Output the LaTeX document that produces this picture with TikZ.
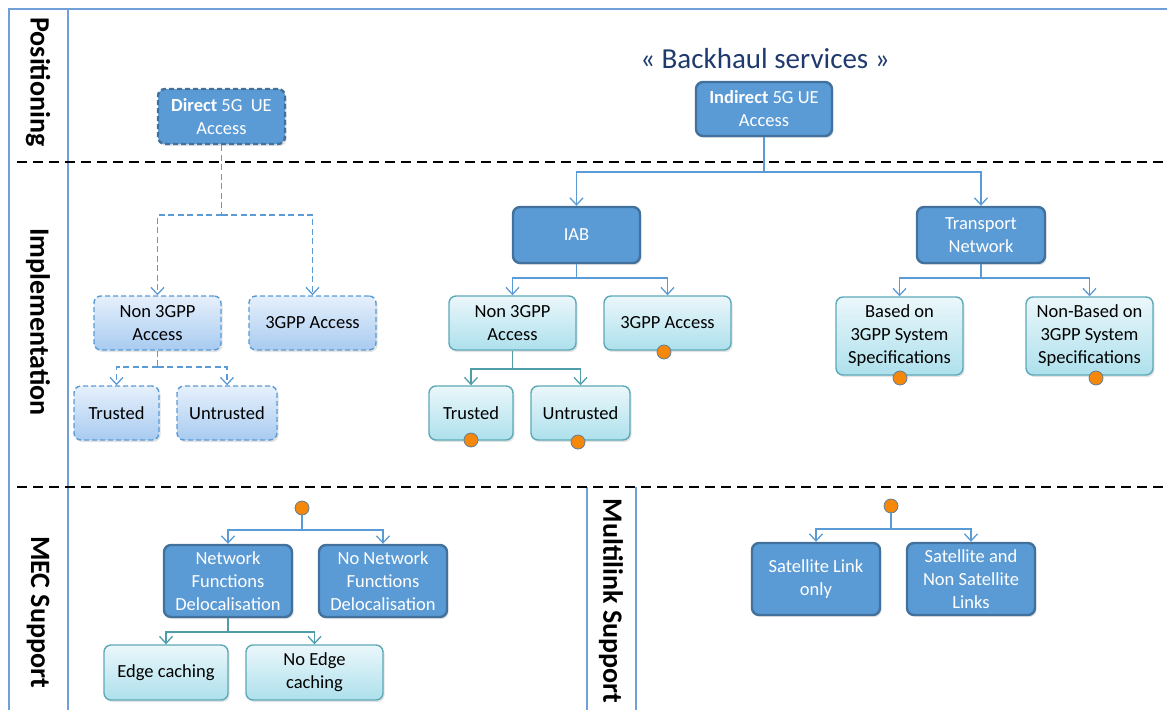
\documentclass[tikz,border=0pt]{standalone}
\usepackage{fontspec}
\setmainfont{Carlito}
\usetikzlibrary{arrows.meta,shadows}
\definecolor{boxblue}{HTML}{5B9BD5}
\definecolor{boxedge}{HTML}{41719C}
\definecolor{framec}{HTML}{6FA0D8}
\definecolor{lbtop}{HTML}{E6F0FC}
\definecolor{lbbot}{HTML}{A8CBF0}
\definecolor{cytop}{HTML}{EBF7FB}
\definecolor{cybot}{HTML}{ADE0EC}
\definecolor{cyedge}{HTML}{5DA9B8}
\definecolor{tealconn}{HTML}{4E9DA8}
\definecolor{navytxt}{HTML}{1F3A6E}
\definecolor{dotor}{HTML}{F5870A}
\definecolor{dotedge}{HTML}{5E7F9E}
\tikzset{
  boxfont/.style={font=\fontsize{18.5}{23}\selectfont},
  shad/.style={drop shadow={opacity=0.22, shadow xshift=1.5pt, shadow yshift=-2pt}},
  darkbox/.style={shad, draw=boxedge, line width=2.4pt, fill=boxblue, rounded corners=7pt, text=white, align=center, boxfont, inner sep=0pt},
  lightbox/.style={shad, draw=boxblue, dash pattern=on 5pt off 3pt, line width=1.4pt, top color=lbtop, bottom color=lbbot, rounded corners=7pt, text=black, align=center, boxfont, inner sep=0pt},
  cybox/.style={shad, draw=cyedge, line width=1.4pt, top color=cytop, bottom color=cybot, rounded corners=7pt, text=black, align=center, boxfont, inner sep=0pt},
  conn/.style={draw=boxblue, line width=1.5pt},
  tconn/.style={draw=tealconn, line width=1.6pt},
  dconn/.style={conn, line width=1.8pt, dash pattern=on 6pt off 3.5pt},
  arr/.style={-{Straight Barb[length=7pt,width=13pt,line width=1.3pt]}},
  odot/.style={circle, fill=dotor, draw=dotedge, line width=0.8pt, minimum size=14pt, inner sep=0pt},
  sep/.style={draw=black, line width=2.2pt, dash pattern=on 10pt off 6pt},
  frame/.style={draw=framec, line width=1.6pt},
  lane/.style={font=\fontsize{28}{30}\selectfont\bfseries, rotate=-90, inner sep=0pt},
}
\begin{document}
\begin{tikzpicture}[x=1pt,y=-1pt]
\useasboundingbox (0,0) rectangle (1167,710);
% frame
\draw[frame] (9,710) -- (9,9) -- (1167,9);
\draw[frame] (68,9) -- (68,710);
\draw[frame] (587,487) -- (587,710);
\draw[frame] (636,487) -- (636,710);
% separators
\draw[sep] (17,162) -- (1167,162);
\draw[sep] (17,487) -- (1167,487);
% lane labels
\node[lane] (lpos) at (38,82) {Positioning};
\node[lane] (limp) at (38,322) {Implementation};
\node[lane] (lmec) at (38,612) {MEC Support};
\node[lane] (lmul) at (611,601) {Multilink Support};
% title
\node[text=navytxt, font=\fontsize{29}{32}\selectfont, inner sep=0pt] (title) at (765,59) {« Backhaul services »};
% top boxes
\node[darkbox, dash pattern=on 5pt off 3pt, minimum width=127pt, minimum height=55pt] (direct) at (221.5,116.5) {\textbf{Direct} 5G~ UE\\Access};
\node[darkbox, minimum width=136pt, minimum height=54pt] (indirect) at (764,109) {\textbf{Indirect} 5G UE\\Access};
% implementation left
\node[lightbox, minimum width=127pt, minimum height=54pt] (n3l) at (157.5,323) {Non 3GPP\\Access};
\node[lightbox, minimum width=127pt, minimum height=54pt] (g3l) at (312.5,323) {3GPP Access};
\node[lightbox, minimum width=85pt, minimum height=54pt] (trl) at (116.5,413) {Trusted};
\node[lightbox, minimum width=100pt, minimum height=54pt] (unl) at (227,413) {Untrusted};
% implementation middle
\node[darkbox, minimum width=127pt, minimum height=56pt] (iab) at (576.5,235) {IAB};
\node[cybox, minimum width=127pt, minimum height=54pt] (n3m) at (512.5,323) {Non 3GPP\\Access};
\node[cybox, minimum width=127pt, minimum height=54pt] (g3m) at (667.5,323) {3GPP Access};
\node[cybox, minimum width=84pt, minimum height=54pt] (trm) at (471,413) {Trusted};
\node[cybox, minimum width=99pt, minimum height=54pt] (unm) at (580.5,413) {Untrusted};
% implementation right
\node[darkbox, minimum width=128pt, minimum height=56pt] (trn) at (981,235) {Transport\\Network};
\node[cybox, minimum width=127pt, minimum height=78pt] (bas) at (899.5,336) {Based on\\3GPP System\\Specifications};
\node[cybox, minimum width=127pt, minimum height=78pt] (nbas) at (1089.5,336) {Non-Based on\\3GPP System\\Specifications};
% dots
\node[odot] (dg3m) at (664,352) {};
\node[odot] (dtrm) at (471,440) {};
\node[odot] (dunm) at (578,442) {};
\node[odot] (dbas) at (900,378) {};
\node[odot] (dnbas) at (1096,378) {};
% MEC
\node[odot] (dmec) at (302,508) {};
\node[darkbox, minimum width=128pt, minimum height=72pt] (nfd) at (228,581) {Network\\Functions\\Delocalisation};
\node[darkbox, minimum width=128pt, minimum height=72pt] (nnfd) at (383,581) {No Network\\Functions\\Delocalisation};
\node[cybox, minimum width=124pt, minimum height=55pt] (edge) at (166,672.5) {Edge caching};
\node[cybox, minimum width=137pt, minimum height=55pt] (nedge) at (314.5,672.5) {No Edge\\caching};
% Multilink
\node[odot] (dmul) at (891,506) {};
\node[darkbox, minimum width=128pt, minimum height=72pt] (sat1) at (816,579) {Satellite Link\\only};
\node[darkbox, minimum width=128pt, minimum height=72pt] (sat2) at (971,579) {Satellite and\\Non Satellite\\Links};
% junctions
\coordinate (jd) at (221.5,215);
\coordinate (jn3l) at (157.5,367);
\coordinate (ji) at (764,172);
\coordinate (jiab) at (576.5,278);
\coordinate (jn3m) at (512.5,369);
\coordinate (jtrn) at (981,278);
\coordinate (jmec) at (302,530);
\coordinate (jnfd) at (228,632);
\coordinate (jmul) at (891,529);
% connectors
\draw[dconn] (direct.south) -- (jd);
\draw[dconn,arr] (jd) -| (n3l.north);
\draw[dconn,arr] (jd) -| (g3l.north);
\draw[dconn] (n3l.south) -- (jn3l);
\draw[dconn,arr] (jn3l) -| (trl.north);
\draw[dconn,arr] (jn3l) -| (unl.north);
\draw[conn] (indirect.south) -- (ji);
\draw[conn,arr] (ji) -| (iab.north);
\draw[conn,arr] (ji) -| (trn.north);
\draw[conn] (iab.south) -- (jiab);
\draw[conn,arr] (jiab) -| (n3m.north);
\draw[conn,arr] (jiab) -| (g3m.north);
\draw[tconn] (n3m.south) -- (jn3m);
\draw[tconn,arr] (jn3m) -| (trm.north);
\draw[tconn,arr] (jn3m) -| (unm.north);
\draw[conn] (trn.south) -- (jtrn);
\draw[conn,arr] (jtrn) -| (bas.north);
\draw[conn,arr] (jtrn) -| (nbas.north);
\draw[conn] (dmec.south) -- (jmec);
\draw[conn,arr] (jmec) -| (nfd.north);
\draw[conn,arr] (jmec) -| (nnfd.north);
\draw[tconn] (nfd.south) -- (jnfd);
\draw[tconn,arr] (jnfd) -| (edge.north);
\draw[tconn,arr] (jnfd) -| (nedge.north);
\draw[conn] (dmul.south) -- (jmul);
\draw[conn,arr] (jmul) -| (sat1.north);
\draw[conn,arr] (jmul) -| (sat2.north);
\end{tikzpicture}
\end{document}
